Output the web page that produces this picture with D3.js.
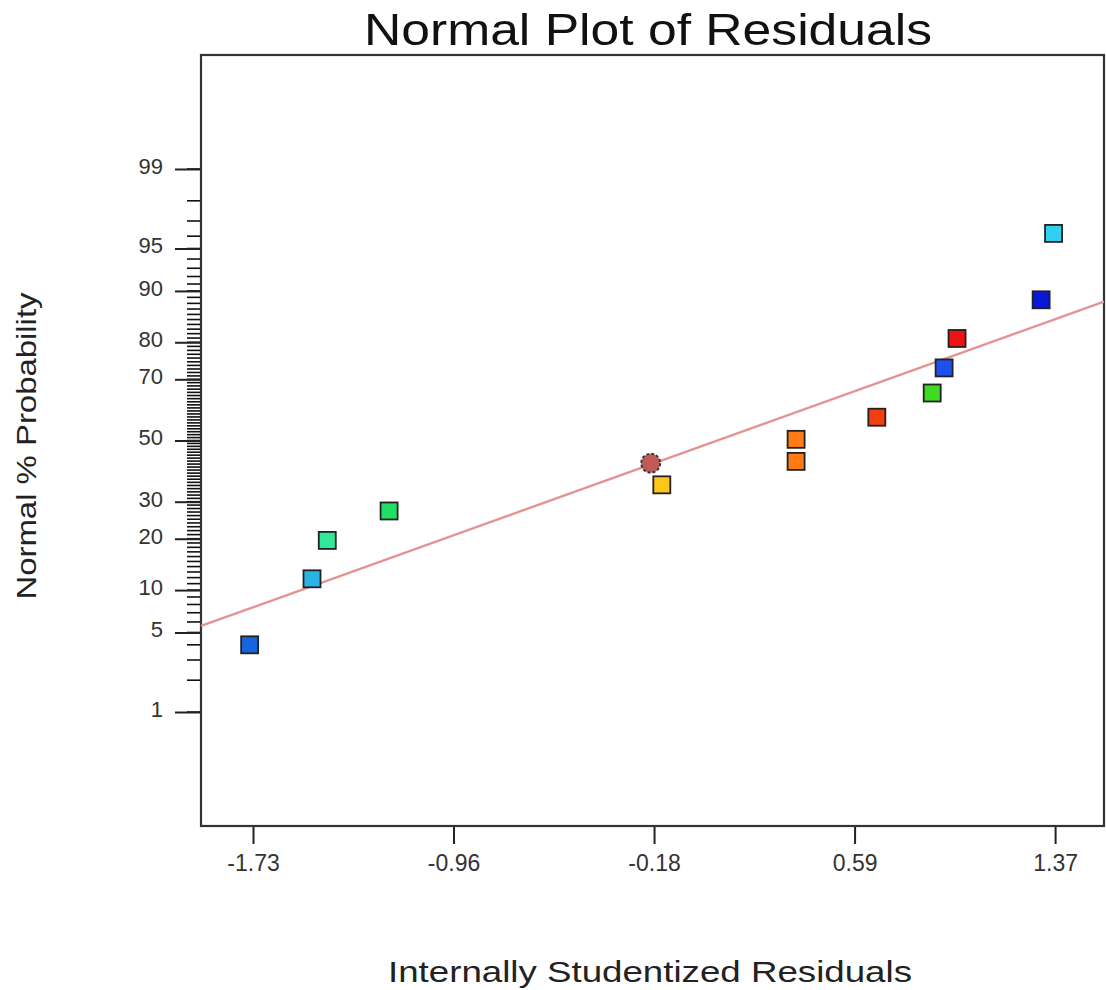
<!DOCTYPE html>
<html>
<head>
<meta charset="utf-8">
<script src="https://cdn.jsdelivr.net/npm/d3@7"></script>
<style>
  body { margin: 0; background: #fff; }
  text { font-family: "Liberation Sans", Arial, sans-serif; }
</style>
</head>
<body>
<div class="chart"></div>
<script>
// residuals vs normal % probability
const residuals = [-1.743, -1.502, -1.443, -1.204, -0.193, -0.150, 0.369, 0.369, 0.681, 0.895, 0.941, 0.991, 1.316, 1.364];
const probs     = [4.0, 11.8, 19.6, 27.3, 42.3, 35.2, 42.9, 50.4, 57.9, 65.8, 73.3, 80.9, 88.6, 96.2];
const pointColors = ["#1664e0", "#2ab4e6", "#2fe89c", "#1ee064", "#c05a58", "#ffc61a", "#ff7b16", "#ff7b16",
                     "#f43e12", "#3ddc20", "#1e50f0", "#ee1212", "#0a16d8", "#2fd0f0"];
const pointShapes = ["sq", "sq", "sq", "sq", "circle", "sq", "sq", "sq", "sq", "sq", "sq", "sq", "sq", "sq"];

const xTicks = [-1.73, -0.955, -0.18, 0.595, 1.37];
const xTickLabels = ["-1.73", "-0.96", "-0.18", "0.59", "1.37"];
const yMajor = [1, 5, 10, 20, 30, 50, 70, 80, 90, 95, 99];

// reference line ends
const lineX = [-1.931, 1.559];
const lineP = [5.6, 88.3];

const width = 1106, height = 990;
const frame = {left: 201, top: 55, right: 1104, bottom: 826};

// inverse normal cdf (Acklam)
function probit(p) {
  const a = [-39.69683028665376, 220.9460984245205, -275.9285104469687, 138.3577518672690, -30.66479806614716, 2.506628277459239];
  const b = [-54.47609879822406, 161.5858368580409, -155.6989798598866, 66.80131188771972, -13.28068155288572];
  const c = [-0.007784894002430293, -0.3223964580411365, -2.400758277161838, -2.549732539343734, 4.374664141464968, 2.938163982698783];
  const d = [0.007784695709041462, 0.3224671290700398, 2.445134137142996, 3.754408661907416];
  const pl = 0.02425;
  let q, r;
  if (p < pl) {
    q = Math.sqrt(-2 * Math.log(p));
    return (((((c[0]*q+c[1])*q+c[2])*q+c[3])*q+c[4])*q+c[5]) / ((((d[0]*q+d[1])*q+d[2])*q+d[3])*q+1);
  }
  if (p > 1 - pl) {
    q = Math.sqrt(-2 * Math.log(1 - p));
    return -(((((c[0]*q+c[1])*q+c[2])*q+c[3])*q+c[4])*q+c[5]) / ((((d[0]*q+d[1])*q+d[2])*q+d[3])*q+1);
  }
  q = p - 0.5; r = q * q;
  return (((((a[0]*r+a[1])*r+a[2])*r+a[3])*r+a[4])*r+a[5])*q / (((((b[0]*r+b[1])*r+b[2])*r+b[3])*r+b[4])*r+1);
}

const x = d3.scaleLinear().domain([-1.931, 1.559]).range([frame.left, frame.right]);
const yz = d3.scaleLinear().domain([-3.303, 3.303]).range([frame.bottom, frame.top]);
const y = p => yz(probit(p / 100));

const svg = d3.select(".chart").append("svg")
  .attr("width", width)
  .attr("height", height);

// title
svg.append("text")
  .attr("x", 648).attr("y", 45)
  .attr("text-anchor", "middle")
  .attr("font-size", 45)
  .attr("fill", "#111")
  .attr("textLength", 568).attr("lengthAdjust", "spacingAndGlyphs")
  .text("Normal Plot of Residuals");

// x axis
const xAxis = svg.append("g")
  .attr("transform", `translate(0,${frame.bottom})`)
  .call(d3.axisBottom(x).tickValues(xTicks).tickFormat((d, i) => xTickLabels[i]).tickSize(18).tickPadding(11));
xAxis.select(".domain").remove();
xAxis.selectAll("line").attr("stroke", "#222").attr("stroke-width", 2);
xAxis.selectAll("text").attr("font-size", 23).attr("fill", "#333")
  .attr("font-family", "Liberation Sans, Arial, sans-serif");

// y axis minor ticks, every whole percent
svg.append("g").selectAll("line")
  .data(d3.range(1, 100))
  .enter().append("line")
  .attr("x1", frame.left - 14).attr("x2", frame.left)
  .attr("y1", d => y(d)).attr("y2", d => y(d))
  .attr("stroke", "#111").attr("stroke-width", 1.6);

const yAxis = svg.append("g")
  .attr("transform", `translate(${frame.left},0)`)
  .call(d3.axisLeft(yz).tickValues(yMajor.map(p => probit(p / 100))).tickFormat((d, i) => yMajor[i]).tickSize(26).tickPadding(12));
yAxis.select(".domain").remove();
yAxis.selectAll("line").attr("stroke", "#222").attr("stroke-width", 2);
yAxis.selectAll("text").attr("font-size", 22).attr("fill", "#333").attr("dy", "0.2em")
  .attr("font-family", "Liberation Sans, Arial, sans-serif");

// frame
svg.append("rect")
  .attr("x", frame.left).attr("y", frame.top)
  .attr("width", frame.right - frame.left).attr("height", frame.bottom - frame.top)
  .attr("fill", "none").attr("stroke", "#333").attr("stroke-width", 2.2);

// reference line
svg.append("line")
  .attr("x1", x(lineX[0])).attr("y1", y(lineP[0]))
  .attr("x2", x(lineX[1])).attr("y2", y(lineP[1]))
  .attr("stroke", "#e59292").attr("stroke-width", 2.4);

// points
const pts = svg.append("g").selectAll("g")
  .data(residuals.map((r, i) => ({r, p: probs[i], c: pointColors[i], s: pointShapes[i]})))
  .enter().append("g");

pts.filter(d => d.s === "sq").append("rect")
  .attr("x", d => x(d.r) - 8.5).attr("y", d => y(d.p) - 8.5)
  .attr("width", 17).attr("height", 17)
  .attr("fill", d => d.c).attr("stroke", "#222").attr("stroke-width", 1.8);

pts.filter(d => d.s === "circle").append("circle")
  .attr("cx", d => x(d.r)).attr("cy", d => y(d.p))
  .attr("r", 9.5)
  .attr("fill", d => d.c).attr("stroke", "#333").attr("stroke-width", 1.8)
  .attr("stroke-dasharray", "3,2");

// axis titles
svg.append("text")
  .attr("x", 650).attr("y", 982)
  .attr("text-anchor", "middle")
  .attr("font-size", 29).attr("fill", "#222")
  .attr("textLength", 524).attr("lengthAdjust", "spacingAndGlyphs")
  .text("Internally Studentized Residuals");

svg.append("text")
  .attr("transform", "translate(36,446) rotate(-90)")
  .attr("text-anchor", "middle")
  .attr("font-size", 28).attr("fill", "#222")
  .attr("textLength", 307).attr("lengthAdjust", "spacingAndGlyphs")
  .text("Normal % Probability");
</script>
</body>
</html>
